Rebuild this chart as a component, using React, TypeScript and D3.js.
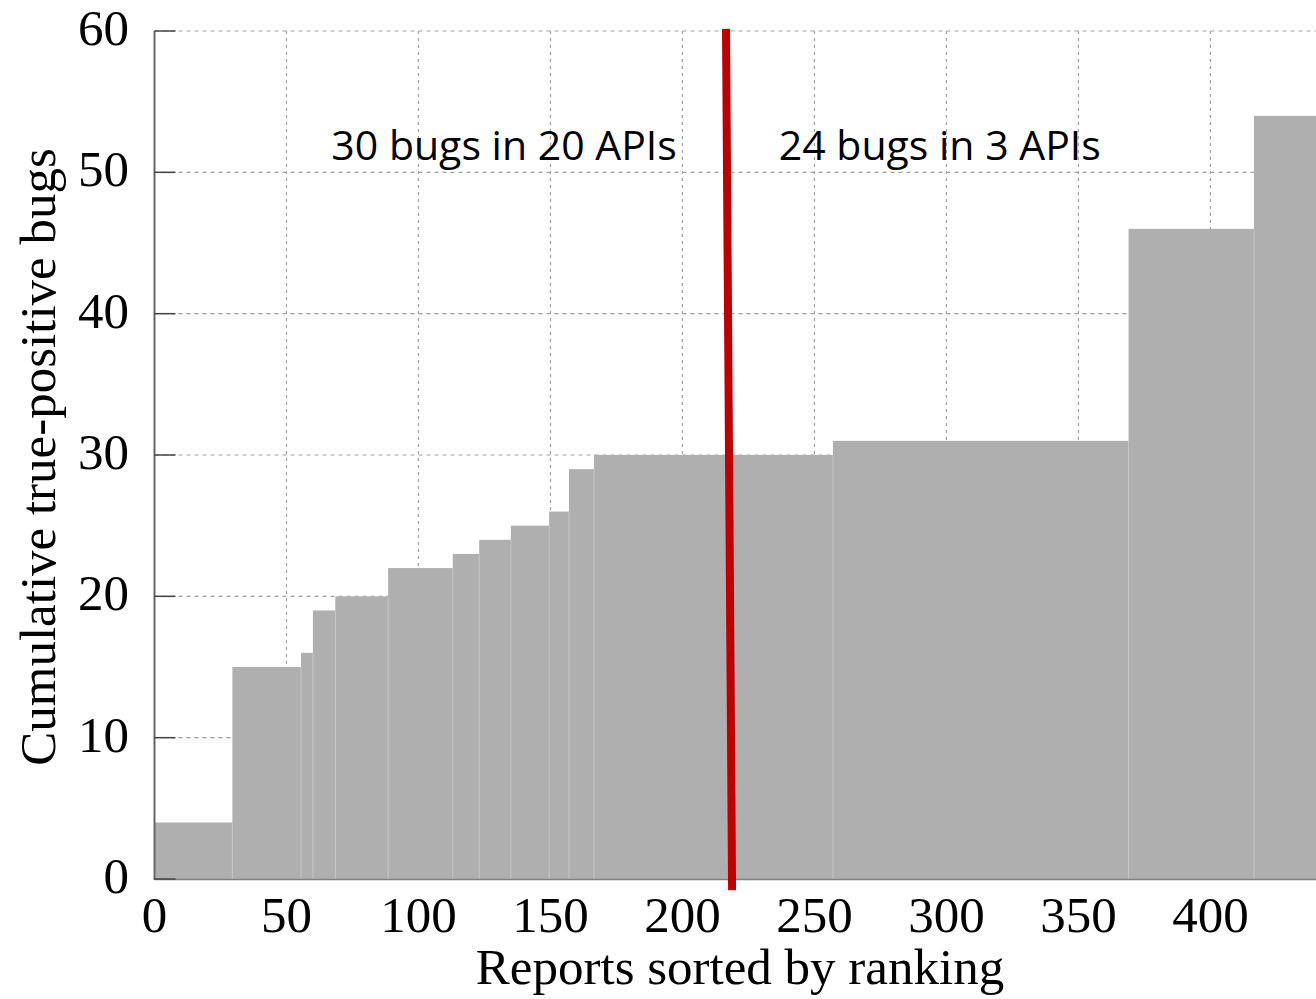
import React, { useEffect, useRef } from 'react';
import * as d3 from 'd3';

// step chart data: each step starts at a report rank and holds the cumulative count
const stepStarts: number[] = [0, 29.5, 55.5, 60, 68.5, 88.5, 113, 123, 135, 149.5, 157, 166.5, 257, 369, 416.5];
const stepEnd = 440;
const cumulativeBugs: number[] = [4, 15, 16, 19, 20, 22, 23, 24, 25, 26, 29, 30, 31, 46, 54];

const xTicks: number[] = [0, 50, 100, 150, 200, 250, 300, 350, 400];
const yTicks: number[] = [0, 10, 20, 30, 40, 50, 60];

// red divider, in data coordinates (top and bottom ends)
const dividerLine: [number, number][] = [[216.5, 60.15], [218.8, -0.8]];
const annotations = [
  { label: '30 bugs in 20 APIs', x: 67, y: 50.85 },
  { label: '24 bugs in 3 APIs', x: 236.5, y: 50.85 },
];

const W = 1316, H = 999;

const App = () => {
  const ref = useRef<SVGSVGElement | null>(null);

  useEffect(() => {
    const svg = d3.select(ref.current);
    svg.selectAll('*').remove();

    const x = d3.scaleLinear().domain([0, 440]).range([154.5, 1316]);
    const y = d3.scaleLinear().domain([0, 60]).range([879, 31]);

    const serif = '"Liberation Serif", "Times New Roman", serif';

    // grid lines
    svg.append('g')
      .selectAll('line')
      .data(xTicks.filter(d => d > 0))
      .join('line')
      .attr('x1', d => x(d)).attr('x2', d => x(d))
      .attr('y1', y(60)).attr('y2', y(0))
      .attr('stroke', '#a0a0a0')
      .attr('stroke-width', 1.2)
      .attr('stroke-dasharray', '3,4');
    svg.append('g')
      .selectAll('line')
      .data(yTicks.filter(d => d > 0))
      .join('line')
      .attr('x1', x(0)).attr('x2', W)
      .attr('y1', d => y(d)).attr('y2', d => y(d))
      .attr('stroke', '#a0a0a0')
      .attr('stroke-width', 1.2)
      .attr('stroke-dasharray', '4,4');

    // the steps
    const steps = stepStarts.map((s, i) => ({
      x0: s,
      x1: i < stepStarts.length - 1 ? stepStarts[i + 1] : stepEnd,
      v: cumulativeBugs[i],
    }));
    svg.append('g')
      .selectAll('rect')
      .data(steps)
      .join('rect')
      .attr('x', d => x(d.x0))
      .attr('y', d => y(d.v))
      .attr('width', d => x(d.x1) - x(d.x0) + 0.5)
      .attr('height', d => y(0) - y(d.v))
      .attr('fill', '#afafaf');

    // light seams between steps
    svg.append('g')
      .selectAll('line')
      .data(steps.slice(1).map((d, i) => ({ at: d.x0, v: Math.min(d.v, steps[i].v) })))
      .join('line')
      .attr('x1', d => x(d.at)).attr('x2', d => x(d.at))
      .attr('y1', d => y(d.v)).attr('y2', y(0))
      .attr('stroke', '#c6c6c6')
      .attr('stroke-width', 1);

    // axes
    svg.append('line')
      .attr('x1', x(0)).attr('x2', x(0))
      .attr('y1', y(60)).attr('y2', y(0) + 1)
      .attr('stroke', '#666').attr('stroke-width', 2);
    svg.append('line')
      .attr('x1', x(0)).attr('x2', W)
      .attr('y1', y(0) + 0.5).attr('y2', y(0) + 0.5)
      .attr('stroke', '#808080').attr('stroke-width', 1.5);
    svg.append('g')
      .selectAll('line')
      .data(yTicks)
      .join('line')
      .attr('x1', x(0)).attr('x2', x(0) + 21)
      .attr('y1', d => y(d)).attr('y2', d => y(d))
      .attr('stroke', '#444').attr('stroke-width', 1.5);

    svg.append('g')
      .selectAll('text')
      .data(yTicks)
      .join('text')
      .attr('x', 129)
      .attr('y', d => y(d) + 14)
      .attr('text-anchor', 'end')
      .style('font-family', serif)
      .style('font-size', '51px')
      .text(d => d);

    svg.append('g')
      .selectAll('text')
      .data(xTicks)
      .join('text')
      .attr('x', d => x(d))
      .attr('y', 932)
      .attr('text-anchor', 'middle')
      .style('font-family', serif)
      .style('font-size', '51px')
      .text(d => d);

    // axis titles
    svg.append('text')
      .attr('x', 740)
      .attr('y', 984)
      .attr('text-anchor', 'middle')
      .style('font-family', serif)
      .style('font-size', '51px')
      .text('Reports sorted by ranking');
    svg.append('text')
      .attr('transform', 'translate(55,457) rotate(-90)')
      .attr('text-anchor', 'middle')
      .style('font-family', serif)
      .style('font-size', '51px')
      .text('Cumulative true-positive bugs');

    // red divider
    svg.append('path')
      .datum(dividerLine)
      .attr('d', d3.line<[number, number]>().x(d => x(d[0])).y(d => y(d[1])))
      .attr('stroke', '#c00000')
      .attr('stroke-width', 8)
      .attr('fill', 'none');

    svg.append('g')
      .selectAll('text')
      .data(annotations)
      .join('text')
      .attr('x', d => x(d.x))
      .attr('y', d => y(d.y))
      .style('font-family', '"Open Sans", sans-serif')
      .style('font-size', '41px')
      .attr('fill', '#000')
      .text(d => d.label);
  }, []);

  return (
    <svg ref={ref} width={W} height={H}
      style={{ position: 'absolute', left: 0, top: 0, background: '#fff' }} />
  );
};

export default App;
